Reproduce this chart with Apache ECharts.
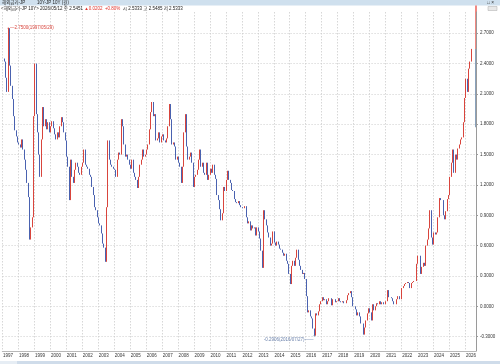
<!DOCTYPE html>
<html><head><meta charset="utf-8">
<script src="https://cdn.jsdelivr.net/npm/echarts@6/dist/echarts.min.js"></script>
<style>html,body{margin:0;padding:0;background:#fff}#c{width:500px;height:364px}</style>
</head><body><div id="c"></div>
<script>
// Monthly closes (Jan..Dec), JP 10Y yield
const c1997 = [2.45, 2.42, 2.26, 2.12, 2.75, 2.38, 2.18, 2.05, 1.88, 1.74, 1.68, 1.62];
const c1998 = [1.60, 1.57, 1.65, 1.55, 1.45, 1.35, 1.22, 1.08, 0.66, 0.78, 0.88, 1.88];
const c1999 = [2.40, 1.90, 1.72, 1.50, 1.28, 1.65, 1.97, 1.78, 1.85, 1.75, 1.82, 1.72];
const c2000 = [1.78, 1.83, 1.76, 1.70, 1.65, 1.72, 1.67, 1.78, 1.87, 1.82, 1.72, 1.64];
const c2001 = [1.48, 1.38, 1.05, 1.45, 1.28, 1.22, 1.35, 1.42, 1.38, 1.32, 1.30, 1.38];
const c2002 = [1.42, 1.55, 1.40, 1.38, 1.36, 1.30, 1.28, 1.18, 1.10, 0.98, 0.95, 0.88];
const c2003 = [0.82, 0.80, 0.72, 0.62, 0.58, 0.44, 0.98, 1.64, 1.45, 1.40, 1.38, 1.36];
const c2004 = [1.35, 1.28, 1.45, 1.52, 1.50, 1.85, 1.78, 1.60, 1.48, 1.50, 1.45, 1.40];
const c2005 = [1.36, 1.45, 1.32, 1.28, 1.25, 1.17, 1.28, 1.40, 1.45, 1.55, 1.48, 1.50];
const c2006 = [1.55, 1.60, 1.75, 1.92, 2.02, 1.88, 1.90, 1.64, 1.66, 1.72, 1.62, 1.68];
const c2007 = [1.70, 1.64, 1.62, 1.66, 1.78, 2.00, 1.85, 1.60, 1.62, 1.58, 1.45, 1.48];
const c2008 = [1.42, 1.38, 1.22, 1.38, 1.72, 1.90, 1.58, 1.45, 1.48, 1.52, 1.42, 1.18];
const c2009 = [1.28, 1.30, 1.35, 1.45, 1.55, 1.38, 1.42, 1.32, 1.30, 1.42, 1.25, 1.30];
const c2010 = [1.36, 1.32, 1.40, 1.30, 1.26, 1.10, 1.05, 0.96, 0.85, 0.92, 1.18, 1.14];
const c2011 = [1.25, 1.34, 1.25, 1.22, 1.15, 1.14, 1.06, 1.03, 1.02, 1.04, 1.00, 0.98];
const c2012 = [0.97, 0.97, 0.99, 0.88, 0.82, 0.84, 0.75, 0.80, 0.77, 0.78, 0.70, 0.78];
const c2013 = [0.74, 0.67, 0.55, 0.38, 0.95, 0.86, 0.80, 0.73, 0.68, 0.60, 0.62, 0.74];
const c2014 = [0.63, 0.60, 0.64, 0.61, 0.57, 0.56, 0.53, 0.50, 0.52, 0.45, 0.42, 0.32];
const c2015 = [0.22, 0.40, 0.45, 0.40, 0.48, 0.56, 0.46, 0.40, 0.36, 0.32, 0.33, 0.27];
const c2016 = [0.10, -0.06, -0.04, -0.10, -0.12, -0.22, -0.2906, -0.07, -0.09, -0.05, 0.02, 0.05];
const c2017 = [0.09, 0.06, 0.07, 0.02, 0.05, 0.08, 0.08, 0.01, 0.07, 0.07, 0.04, 0.05];
const c2018 = [0.08, 0.05, 0.04, 0.05, 0.03, 0.03, 0.06, 0.11, 0.13, 0.15, 0.09, 0.00];
const c2019 = [0.00, -0.03, -0.09, -0.06, -0.10, -0.17, -0.17, -0.28, -0.21, -0.14, -0.07, -0.02];
const c2020 = [-0.06, -0.14, 0.02, -0.04, 0.00, 0.03, 0.02, 0.05, 0.02, 0.04, 0.02, 0.02];
const c2021 = [0.05, 0.16, 0.09, 0.09, 0.08, 0.05, 0.02, 0.02, 0.07, 0.10, 0.07, 0.07];
const c2022 = [0.18, 0.20, 0.22, 0.23, 0.24, 0.23, 0.18, 0.23, 0.24, 0.25, 0.25, 0.42];
const c2023 = [0.50, 0.50, 0.32, 0.39, 0.43, 0.40, 0.60, 0.66, 0.77, 0.95, 0.68, 0.61];
const c2024 = [0.73, 0.71, 0.73, 0.88, 1.07, 1.05, 1.05, 0.90, 0.86, 0.94, 1.06, 1.10];
const c2025 = [1.28, 1.42, 1.55, 1.32, 1.50, 1.45, 1.56, 1.60, 1.65, 1.67, 1.82, 2.06];
const c2026 = [2.25, 2.12, 2.35, 2.42, 2.5451];

const yTicks = [-0.3, 0, 0.3, 0.6, 0.9, 1.2, 1.5, 1.8, 2.1, 2.4, 2.7];
const peakText = '2.7500(1997/05/29)';
const troughText = '-0.2906(2016/07/27)';
const titleA = '해외금리-JP';
const titleB = '10Y-JP 10Y (월)';
const infoA = '<해외금리-JP 10Y> 2026/05/12 종 2.5451 ';
const infoUp = '▲0.0202';
const infoPct = '+0.80%';
const infoB = '시 2.5333 고 2.5485 저 2.5333';
const lastClose = 2.5451;
const changeText = '+0.80%';
const rangeLow = 1.77;

const closes = [].concat(c1997,c1998,c1999,c2000,c2001,c2002,c2003,c2004,c2005,c2006,
  c2007,c2008,c2009,c2010,c2011,c2012,c2013,c2014,c2015,c2016,c2017,c2018,c2019,
  c2020,c2021,c2022,c2023,c2024,c2025,c2026);
const categories = [];
for (let y = 1997; y <= 2026; y++) {
  for (let m = 1; m <= 12; m++) {
    if (y === 2026 && m > 8) break;
    categories.push(y + '/' + String(m).padStart(2, '0'));
  }
}
const candles = closes.map((c, i) => {
  const o = i ? closes[i - 1] : c;
  return [o, c, Math.min(o, c), Math.max(o, c)];
});

const GL = -2.14, GR = 476, GT = 12, GB = 351;
const FONT = 'Liberation Sans, "Noto Sans CJK KR", sans-serif';
const UP = '#d9453d', DOWN = '#4a62b0';
const chart = echarts.init(document.getElementById('c'), null, {renderer: 'canvas'});
const isJan = (i, v) => String(v).endsWith('/01');

chart.setOption({
  animation: false,
  backgroundColor: '#fff',
  grid: {left: GL, right: 500 - GR, top: GT, bottom: 364 - GB},
  xAxis: {
    type: 'category', data: categories, boundaryGap: true,
    axisLine: {show: true, onZero: false, lineStyle: {color: '#b8b8b8', width: 1}},
    axisTick: {show: false},
    axisLabel: {interval: isJan, formatter: v => v.slice(0, 4), align: 'left', margin: 3,
      fontSize: 4.5, color: '#333', fontFamily: FONT},
    splitLine: {show: true, interval: isJan, lineStyle: {color: '#cdcdcd', type: [1.5, 1.5], width: 0.8}}
  },
  yAxis: {
    type: 'value', position: 'right', min: -0.442, max: 2.910,
    axisLine: {show: true, lineStyle: {color: '#9a9a9a'}},
    axisTick: {show: true, length: 2, customValues: yTicks, lineStyle: {color: '#9a9a9a'}},
    axisLabel: {customValues: yTicks, formatter: v => v.toFixed(4), fontSize: 4.5, margin: 4,
      color: '#333', fontFamily: FONT},
    splitLine: {show: true, lineStyle: {color: '#d6d6d6', type: [1.5, 1.5], width: 0.8}}
  },
  series: [{
    type: 'candlestick', data: candles, barWidth: 1.2,
    itemStyle: {color: UP, color0: DOWN, borderColor: UP, borderColor0: DOWN, borderWidth: 1},
    markPoint: {
      silent: true, symbol: 'circle', symbolSize: 1.5,
      data: [
        {type: 'max', valueDim: 'highest', itemStyle: {color: UP},
          label: {show: true, position: 'right', distance: 1, formatter: '—' + peakText,
            color: UP, fontSize: 4.5, fontFamily: FONT}},
        {type: 'min', valueDim: 'lowest', itemStyle: {color: '#6a80aa'},
          label: {show: true, position: 'left', distance: 0, offset: [0, 4], formatter: troughText + '——',
            color: '#6a80aa', fontSize: 4.5, fontFamily: FONT}}
      ]
    },
    markLine: {
      silent: true, symbol: ['none', 'none'], lineStyle: {opacity: 0},
      data: [{yAxis: lastClose, label: {show: true, position: 'end', distance: 2,
        formatter: lastClose.toFixed(4) + '\n' + changeText, backgroundColor: '#e8392f',
        color: '#fff', fontSize: 4.5, lineHeight: 4.5, padding: [1, 2, 0.5, 3], fontFamily: FONT}}]
    }
  }]
});

const yPrice = chart.convertToPixel({yAxisIndex: 0}, lastClose);
const yLow = chart.convertToPixel({yAxisIndex: 0}, rangeLow);
chart.setOption({
  graphic: [
    {type: 'rect', shape: {x: 0, y: 0, width: 500, height: 5.5}, style: {fill: '#cfe0ee'}, silent: true},
    {type: 'text', x: 2, y: 0.6, style: {text: titleA, fontSize: 4.5, fill: '#222', fontFamily: FONT}},
    {type: 'text', x: 37, y: 0.6, style: {text: titleB, fontSize: 4.5, fill: '#222', fontFamily: FONT}},
    {type: 'text', x: 487, y: 0.4, style: {text: '□ ×', fontSize: 4.8, fill: '#333', fontFamily: FONT}},
    {type: 'text', x: 1, y: 6.3, style: {
      text: '{a|' + infoA + '}{r|' + infoUp + '  ' + infoPct + '}{a|  ' + infoB + '}',
      fontFamily: FONT,
      rich: {a: {fontSize: 4.5, fill: '#222', fontFamily: FONT}, r: {fontSize: 4.5, fill: '#e0332b', fontFamily: FONT}}
    }},
    {type: 'rect', shape: {x: 488, y: 6.5, width: 9, height: 4}, style: {fill: '#e8e8e8', stroke: '#aaa', lineWidth: 0.5}},
    {type: 'line', shape: {x1: GR, y1: 5.5, x2: GR, y2: yPrice}, style: {stroke: '#e8392f', lineWidth: 1.2}},
    {type: 'line', shape: {x1: GR, y1: yPrice, x2: GR, y2: yLow}, style: {stroke: '#3d6590', lineWidth: 1.2}},
    {type: 'rect', shape: {x: 0, y: 361, width: 500, height: 3}, style: {fill: '#cfdcea'}},
    {type: 'rect', shape: {x: 0, y: 361, width: 17, height: 3}, style: {fill: '#e6edf4'}}
  ]
});
</script>
</body></html>
